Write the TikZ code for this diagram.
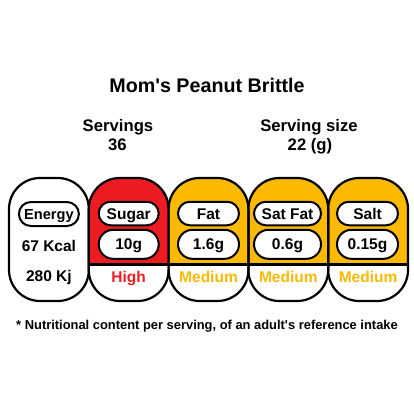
\documentclass[tikz,border=0pt]{standalone}
\usepackage{fontspec}
\setmainfont{Liberation Sans}[Ligatures=TeXOff]
\usetikzlibrary{shapes.misc}
\definecolor{hired}{RGB}{237,28,36}
\definecolor{amber}{RGB}{251,185,0}
\begin{document}
\begin{tikzpicture}[x=1pt,y=-1pt,
  lbl/.style={font=\fontsize{15.5}{18}\selectfont\bfseries, text height=11.1pt, text depth=0pt, inner sep=0pt},
  pill/.style={lbl, rounded rectangle, draw=black, line width=2pt, fill=white, minimum height=#1},
  panelline/.style={line width=2.2pt, draw=black},
  head/.style={font=\fontsize{16.7}{19}\selectfont\bfseries, anchor=base, inner sep=0pt},
]
\useasboundingbox[fill=white] (0,0) rectangle (414,414);

% title and header
\node[font=\fontsize{19.7}{22}\selectfont\bfseries, anchor=base, inner sep=0pt] (title) at (207,92.3) {Mom's Peanut Brittle};
\node[head] (serv) at (118,131.7) {Servings};
\node[head] (servv) at (117.5,150.7) {36};
\node[head] (size) at (309,131.7) {Serving size};
\node[head] (sizev) at (310,150.7) {22 (g)};

% panel fills
\foreach \L/\C in {9/white, 88.8/hired, 168.6/amber, 248.4/amber, 328.2/amber}{
  \begin{scope}
    \clip[rounded corners=31pt] (\L,178) rectangle (\L+79.8,301);
    \fill[white] (\L,178) rectangle (\L+79.8,301);
    \fill[\C] (\L,178) rectangle (\L+79.8,264.5);
  \end{scope}
}
% separators
\foreach \L in {88.8,168.6,248.4,328.2}{
  \draw[panelline] (\L,264.5) -- (\L+79.8,264.5);
}
% outlines
\foreach \L in {9,88.8,168.6,248.4,328.2}{
  \draw[panelline, rounded corners=31pt] (\L,178) rectangle (\L+79.8,301);
}

% Energy panel
\node[pill=24pt, minimum width=60pt, font=\fontsize{14.6}{17}\selectfont\bfseries] (energy) at (48.9,214) {Energy};
\node[lbl] (kcal) at (48.9,245.5) {67 Kcal};
\node[lbl] (kj) at (48.9,276) {280 Kj};

% Sugar
\node[pill=23.5pt, minimum width=60pt] (sugar) at (128.7,213.5) {Sugar};
\node[pill=29pt, minimum width=60pt] (sugarv) at (128.7,244.3) {10g};
\node[lbl, text=hired] (sugarl) at (128.7,276.5) {High};

% Fat
\node[pill=23.5pt, minimum width=61pt] (fat) at (208.5,213.5) {Fat};
\node[pill=29pt, minimum width=61pt] (fatv) at (208.5,244.3) {1.6g};
\node[lbl, text=amber] (fatl) at (208.5,276.5) {Medium};

% Sat Fat
\node[pill=23.5pt, minimum width=67pt] (sfat) at (287.5,213.5) {Sat Fat};
\node[pill=29pt, minimum width=67pt] (sfatv) at (287.5,244.3) {0.6g};
\node[lbl, text=amber] (sfatl) at (288.3,276.5) {Medium};

% Salt
\node[pill=23.5pt, minimum width=61pt] (salt) at (367.5,213.5) {Salt};
\node[pill=29pt, minimum width=61pt] (saltv) at (367.5,244.3) {0.15g};
\node[lbl, text=amber] (saltl) at (368.1,276.5) {Medium};

% footnote
\node[font=\fontsize{12.9}{15}\selectfont\bfseries, anchor=base, inner sep=0pt] (note) at (207,329) {* Nutritional content per serving, of an adult's reference intake};
\end{tikzpicture}
\end{document}
